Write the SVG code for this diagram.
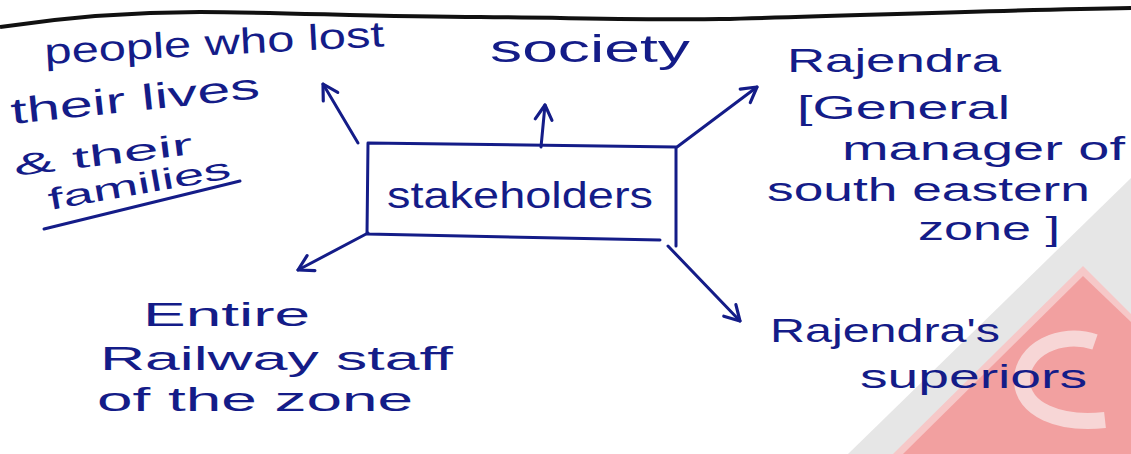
<svg xmlns="http://www.w3.org/2000/svg" width="1131" height="454" viewBox="0 0 1131 454">
<style>
.ink{font-family:"Liberation Sans","DejaVu Sans",sans-serif;font-size:34px;fill:#141c88}
.ln{fill:none;stroke:#141c88;stroke-width:3;stroke-linecap:round;stroke-linejoin:round}
</style>
<defs>
<marker id="ah" viewBox="0 0 20 20" refX="16" refY="10" markerWidth="7" markerHeight="7" orient="auto" markerUnits="strokeWidth">
<path d="M2,2 L16,10 L2,18" fill="none" stroke="#141c88" stroke-width="3" stroke-linecap="round" stroke-linejoin="round"/>
</marker>
</defs>
<rect width="1131" height="454" fill="#ffffff"/>
<g id="watermark">
<polygon points="1131,178 848,454 1131,454" fill="#e6e6e6"/>
<polygon points="1083,266 893,454 1131,454 1131,314" fill="#f6c8c8"/>
<polygon points="1083,276 903,454 1131,454 1131,322" fill="#f2a0a0"/>
<path d="M1095,342 C1060,330 1022,350 1022,380 C1022,410 1060,425 1105,420" fill="none" stroke="#f7d6d6" stroke-width="16"/>
</g>
<path d="M0,27 C60,18 120,12 200,12 C280,12 380,17 480,17 C580,18 650,20 720,19 C850,16 1000,10 1131,8" fill="none" stroke="#111111" stroke-width="4"/>
<g id="connectors">
<line class="ln" x1="358" y1="143" x2="323" y2="84" marker-end="url(#ah)"/>
<line class="ln" x1="541" y1="147" x2="545" y2="105" marker-end="url(#ah)"/>
<line class="ln" x1="677" y1="147" x2="757" y2="87" marker-end="url(#ah)"/>
<line class="ln" x1="368" y1="233" x2="298" y2="270" marker-end="url(#ah)"/>
<line class="ln" x1="668" y1="246" x2="740" y2="321" marker-end="url(#ah)"/>
</g>
<g id="stakeholders">
<path class="ln" d="M368,143 L676,147 L676,246 M368,143 L367,234 L660,240"/>
<text class="ink" x="387" y="208" textLength="266" lengthAdjust="spacingAndGlyphs" style="font-size:36px">stakeholders</text>
</g>
<g id="victims">
<text class="ink" x="45" y="64" textLength="340" lengthAdjust="spacingAndGlyphs" transform="rotate(-3 45 64)" style="font-size:36px">people who lost</text>
<text class="ink" x="12" y="124" textLength="250" lengthAdjust="spacingAndGlyphs" transform="rotate(-6 12 124)" style="font-size:36px">their lives</text>
<text class="ink" x="15" y="176" textLength="180" lengthAdjust="spacingAndGlyphs" transform="rotate(-7 15 176)" style="font-size:30px">&amp; their</text>
<text class="ink" x="50" y="210" textLength="185" lengthAdjust="spacingAndGlyphs" transform="rotate(-10 50 210)" style="font-size:30px">families</text>
<path class="ln" d="M44,229 L240,181"/>
</g>
<g id="society">
<text class="ink" x="490" y="62" textLength="200" lengthAdjust="spacingAndGlyphs" style="font-size:38px">society</text>
</g>
<g id="rajendra">
<text class="ink" x="787" y="72" textLength="214" lengthAdjust="spacingAndGlyphs">Rajendra</text>
<text class="ink" x="797" y="119" textLength="213" lengthAdjust="spacingAndGlyphs">[General</text>
<text class="ink" x="842" y="160" textLength="283" lengthAdjust="spacingAndGlyphs">manager of</text>
<text class="ink" x="767" y="201" textLength="323" lengthAdjust="spacingAndGlyphs">south eastern</text>
<text class="ink" x="918" y="240" textLength="142" lengthAdjust="spacingAndGlyphs">zone ]</text>
</g>
<g id="staff">
<text class="ink" x="143" y="326" textLength="167" lengthAdjust="spacingAndGlyphs">Entire</text>
<text class="ink" x="100" y="370" textLength="353" lengthAdjust="spacingAndGlyphs">Railway staff</text>
<text class="ink" x="97" y="411" textLength="316" lengthAdjust="spacingAndGlyphs">of the zone</text>
</g>
<g id="superiors">
<text class="ink" x="770" y="342" textLength="230" lengthAdjust="spacingAndGlyphs">Rajendra's</text>
<text class="ink" x="860" y="388" textLength="227" lengthAdjust="spacingAndGlyphs">superiors</text>
</g>
</svg>
